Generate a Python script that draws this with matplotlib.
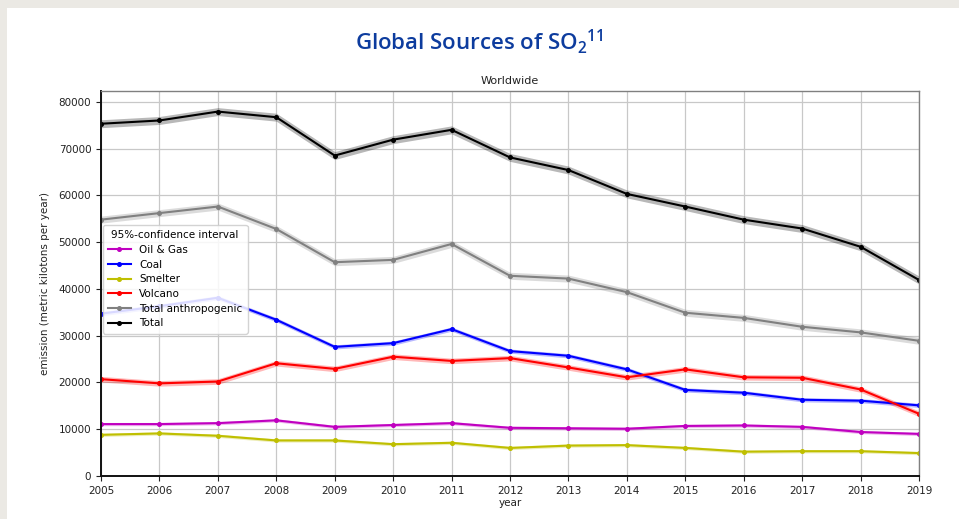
import matplotlib
matplotlib.use("Agg")
import matplotlib.pyplot as plt
from matplotlib.patches import Rectangle

years = list(range(2005, 2020))

oil_gas = [11100, 11100, 11300, 11900, 10500, 10900, 11300, 10300, 10200, 10100, 10700, 10800, 10500, 9400, 9000]
coal = [34700, 36300, 38100, 33400, 27600, 28400, 31400, 26700, 25700, 22800, 18400, 17800, 16300, 16100, 15100]
smelter = [8800, 9100, 8600, 7600, 7600, 6800, 7100, 6000, 6500, 6600, 6000, 5200, 5300, 5300, 4900]
volcano = [20700, 19800, 20200, 24100, 22900, 25500, 24600, 25200, 23200, 21100, 22800, 21100, 21000, 18500, 13300]
total_anthro = [54800, 56200, 57600, 52800, 45700, 46200, 49600, 42800, 42200, 39300, 34900, 33800, 31900, 30700, 28900]
total = [75300, 76000, 77900, 76700, 68500, 71900, 74000, 68100, 65400, 60300, 57600, 54800, 52900, 49000, 41900]

labels = ["Oil & Gas", "Coal", "Smelter", "Volcano", "Total anthropogenic", "Total"]
series = [oil_gas, coal, smelter, volcano, total_anthro, total]
colors = ["#c000c0", "#0000ff", "#bfbf00", "#ff0000", "#808080", "#000000"]
# half-width of the 95% confidence band for each series
ci_half = [350, 450, 350, 600, 750, 850]

fig = plt.figure(figsize=(9.59, 5.19), dpi=100)
fig.patch.set_facecolor("white")

# light page frame along the top and left edges
W, H = 959, 519
fig.patches.append(Rectangle((0, 1 - 8 / H), 1, 8 / H, transform=fig.transFigure,
                             facecolor="#ebe9e4", edgecolor="none", zorder=0))
fig.patches.append(Rectangle((0, 0), 7 / W, 1, transform=fig.transFigure,
                             facecolor="#ebe9e4", edgecolor="none", zorder=0))

ax = fig.add_axes([101 / W, 1 - 476 / H, (919 - 101) / W, (476 - 91) / H])

for vals, lab, col, ci in zip(series, labels, colors, ci_half):
    lo = [v - ci for v in vals]
    hi = [v + ci for v in vals]
    ax.fill_between(years, lo, hi, color=col, alpha=0.28, linewidth=0)
    ax.plot(years, vals, color=col, lw=1.5, marker="o", ms=2.6, label=lab)

ax.set_xlim(2005, 2019)
ax.set_ylim(0, 82300)
ax.set_xticks(years)
ax.set_yticks(range(0, 80001, 10000))
ax.grid(True, color="#c8c8c8", lw=0.9)
ax.set_axisbelow(True)
ax.tick_params(labelsize=7.5, length=3.5, width=0.8, colors="#222222")

for side in ["top", "right"]:
    ax.spines[side].set_color("#808080")
    ax.spines[side].set_linewidth(1.0)
for side in ["left", "bottom"]:
    ax.spines[side].set_color("#111111")
    ax.spines[side].set_linewidth(1.4)

ax.set_xlabel("year", fontsize=7.5, color="#222222", labelpad=2)
ax.set_ylabel("emission (metric kilotons per year)", fontsize=7.5, color="#222222", labelpad=6)
ax.set_title("Worldwide", fontsize=8, color="#222222", pad=5)

leg = ax.legend(title="95%-confidence interval", loc="upper left",
                bbox_to_anchor=(0.002, 0.652), borderaxespad=0,
                fontsize=7.5, title_fontsize=7.5, frameon=True,
                handlelength=2.2, labelspacing=0.45, borderpad=0.5)
leg.get_frame().set_edgecolor("#cccccc")
leg.get_frame().set_alpha(0.85)

fig.text(0.5, 1 - 42 / H, r"Global Sources of SO$_\mathregular{2}$$^\mathregular{11}$",
         ha="center", va="center", fontsize=16, fontweight="semibold",
         family="Open Sans", color="#0d3c9e")

fig.savefig("out.png", dpi=100, facecolor="white")
